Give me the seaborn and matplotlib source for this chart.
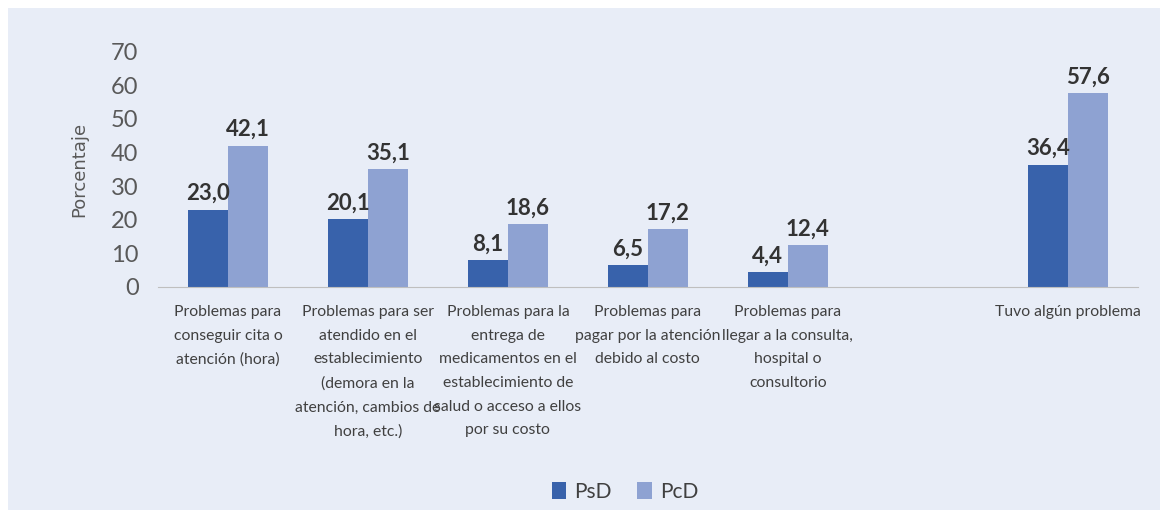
import matplotlib
matplotlib.use("Agg")
import matplotlib.pyplot as plt
import seaborn as sns
import pandas as pd
import numpy as np
from matplotlib.patches import Rectangle

categories = [
    "Problemas para\nconseguir cita o\natención (hora)",
    "Problemas para ser\natendido en el\nestablecimiento\n(demora en la\natención, cambios de\nhora, etc.)",
    "Problemas para la\nentrega de\nmedicamentos en el\nestablecimiento de\nsalud o acceso a ellos\npor su costo",
    "Problemas para\npagar por la atención\ndebido al costo",
    "Problemas para\nllegar a la consulta,\nhospital o\nconsultorio",
    " ",
    "Tuvo algún problema",
]
psd = [23.0, 20.1, 8.1, 6.5, 4.4, np.nan, 36.4]
pcd = [42.1, 35.1, 18.6, 17.2, 12.4, np.nan, 57.6]
series = ["PsD", "PcD"]
colors = ["#3862ab", "#8ea2d2"]

df = pd.DataFrame({
    "cat": categories * 2,
    "serie": ["PsD"] * len(categories) + ["PcD"] * len(categories),
    "val": psd + pcd,
})

sns.set_style("white")
plt.rcParams["font.family"] = ["Lato", "DejaVu Sans"]

fig = plt.figure(figsize=(11.62, 5.18), dpi=100)
fig.patch.set_facecolor("white")
fig.patches.append(Rectangle((8 / 1162, 8 / 518), 1152 / 1162, 502 / 518,
                             transform=fig.transFigure, facecolor="#e8edf7",
                             edgecolor="none", zorder=-10))
ax = fig.add_axes([0.136, 0.446, 0.843, 0.454])
ax.set_facecolor("none")

sns.barplot(data=df, x="cat", y="val", hue="serie", order=categories,
            hue_order=series, palette=colors, width=0.57, ax=ax,
            saturation=1, linewidth=0, legend=True)

for cont in ax.containers:
    labs = [f"{b.get_height():.1f}".replace(".", ",") if np.isfinite(b.get_height()) and b.get_height() > 0 else ""
            for b in cont]
    ax.bar_label(cont, labels=labs, padding=4, fontsize=16, fontweight="bold",
                 color="#333333")

ax.set_ylim(0, 70)
ax.set_yticks(range(0, 71, 10))
ax.tick_params(axis="y", labelsize=17, labelcolor="#595959", length=0, pad=14)
ax.tick_params(axis="x", labelsize=11.3, labelcolor="#404040", length=0, pad=13)
for t in ax.get_xticklabels():
    t.set_linespacing(1.88)
ax.set_xlabel("")
ax.set_ylabel("Porcentaje", fontsize=13, color="#595959", labelpad=16,
              family=["DejaVu Sans"])
for s in ["top", "right", "left"]:
    ax.spines[s].set_visible(False)
ax.spines["bottom"].set_color("#bfbfbf")
ax.set_xlim(-0.5, len(categories) - 0.5)

handles, labels = ax.get_legend_handles_labels()
ax.get_legend().remove()
leg = fig.legend(handles, labels, loc="center", bbox_to_anchor=(625 / 1162, 1 - 492 / 518),
                 ncol=2, frameon=False, fontsize=15, handlelength=0.7, handleheight=0.9,
                 handletextpad=0.4, columnspacing=1.2)
for t in leg.get_texts():
    t.set_color("#404040")

fig.savefig("out.png", dpi=100)
